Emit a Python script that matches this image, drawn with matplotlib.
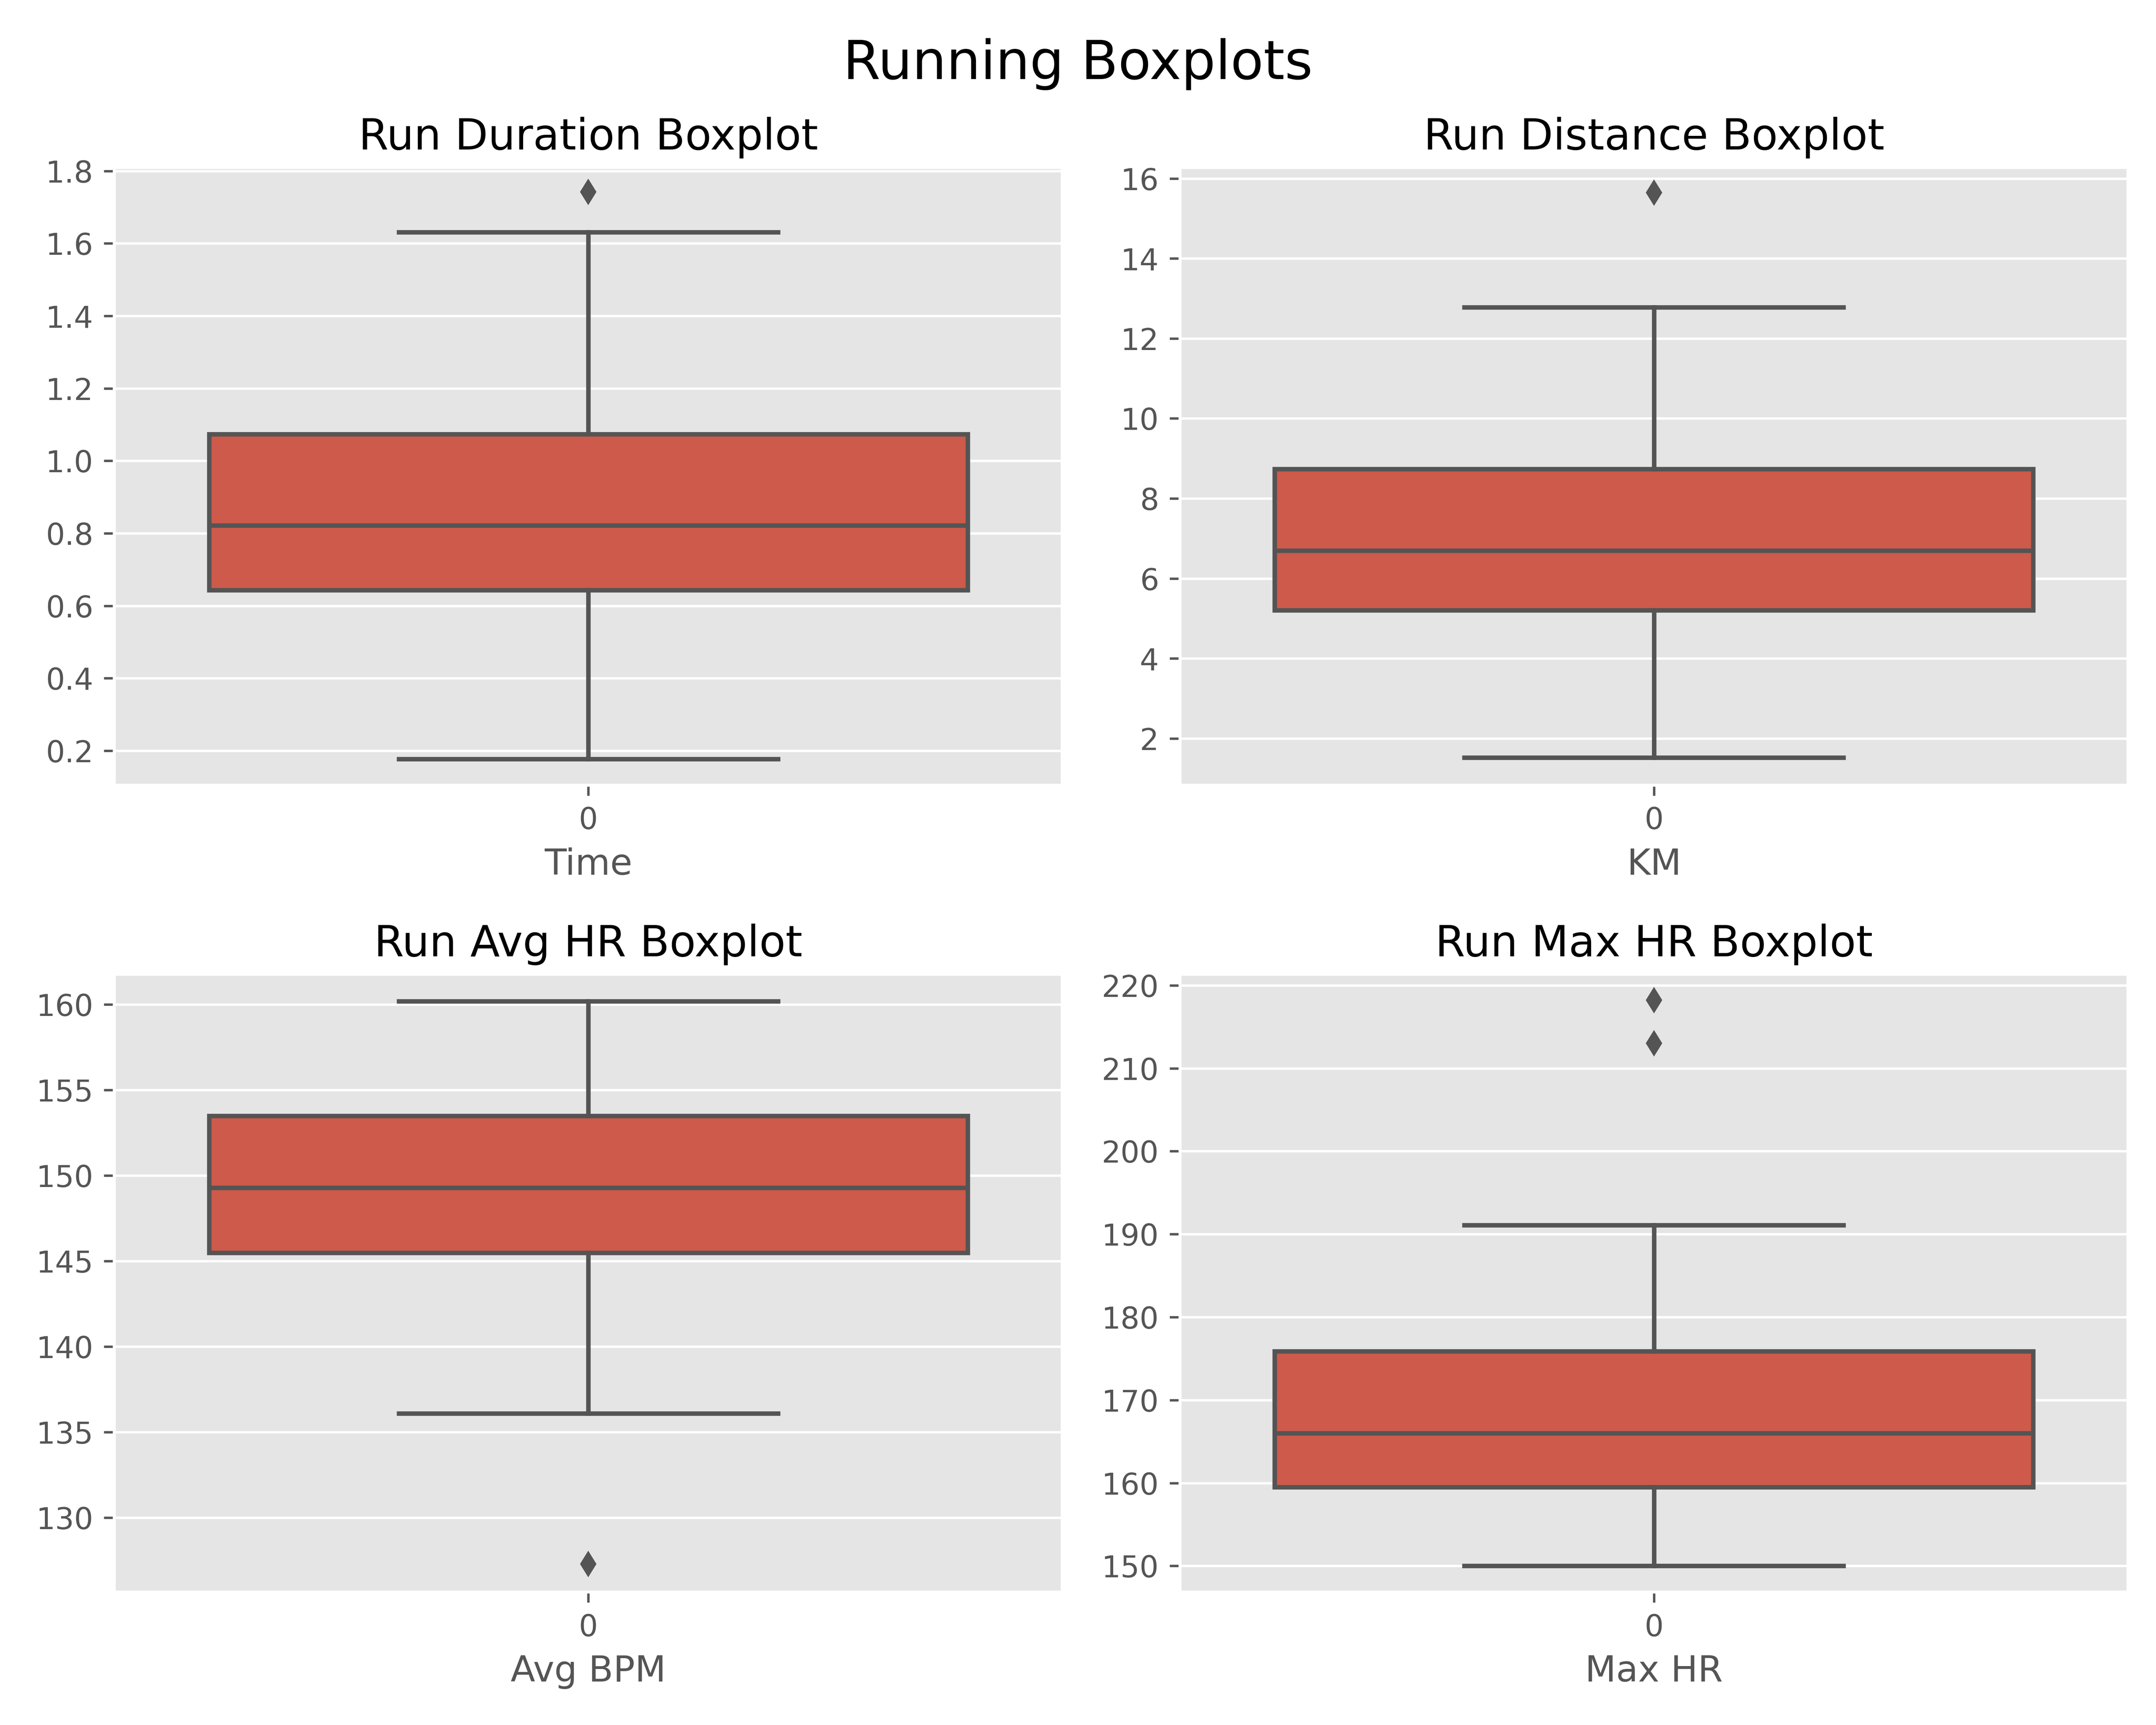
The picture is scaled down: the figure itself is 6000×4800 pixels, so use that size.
import matplotlib
matplotlib.use("Agg")
import matplotlib.pyplot as plt

plt.style.use("ggplot")

# box statistics
titles = ["Run Duration Boxplot", "Run Distance Boxplot", "Run Avg HR Boxplot", "Run Max HR Boxplot"]
xlabels = ["Time", "KM", "Avg BPM", "Max HR"]
whislo = [0.177, 1.52, 136.1, 150.0]
q1 = [0.643, 5.21, 145.5, 159.5]
med = [0.822, 6.70, 149.3, 166.0]
q3 = [1.074, 8.74, 153.5, 175.9]
whishi = [1.631, 12.78, 160.2, 191.1]
fliers = [[1.742], [15.65], [127.3], [213.0, 218.2]]
ylims = [(0.105, 1.81), (0.83, 16.28), (125.65, 161.77), (146.84, 221.33)]

box_color = "#CD5A4A"
gray = "#545454"

fig, axes = plt.subplots(2, 2, figsize=(10, 8))
fig.subplots_adjust(left=0.053, right=0.987, top=0.903, bottom=0.077, wspace=0.124, hspace=0.306)
fig.suptitle("Running Boxplots", fontsize=18, y=0.978)

for i, ax in enumerate(axes.flat):
    stats = [dict(whislo=whislo[i], q1=q1[i], med=med[i], q3=q3[i], whishi=whishi[i], fliers=fliers[i])]
    ax.bxp(stats, positions=[0], widths=0.8, capwidths=[0.4], patch_artist=True, showfliers=True,
           boxprops=dict(facecolor=box_color, edgecolor=gray, linewidth=1.5),
           whiskerprops=dict(color=gray, linewidth=1.5),
           capprops=dict(color=gray, linewidth=1.5),
           medianprops=dict(color=gray, linewidth=1.5),
           flierprops=dict(marker="d", markerfacecolor=gray, markeredgecolor=gray, markersize=5))
    ax.set_xlim(-0.5, 0.5)
    ax.set_ylim(*ylims[i])
    ax.set_xticks([0])
    ax.set_xticklabels(["0"])
    ax.set_title(titles[i], fontsize=14.4)
    ax.set_xlabel(xlabels[i], fontsize=12)
    ax.grid(axis="x", visible=False)

plt.savefig("out.png", dpi=600)
